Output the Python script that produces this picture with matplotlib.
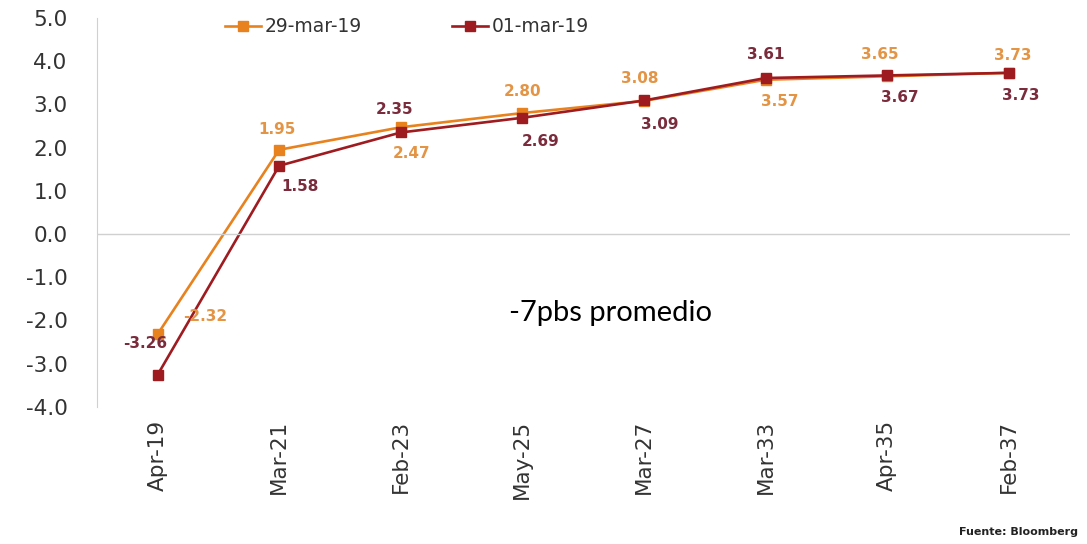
import matplotlib.pyplot as plt

plt.rcParams['font.family'] = ['DejaVu Sans']

# Данные
categories = ["Apr-19", "Mar-21", "Feb-23", "May-25", "Mar-27", "Mar-33", "Apr-35", "Feb-37"]
curve_29mar = [-2.32, 1.95, 2.47, 2.80, 3.08, 3.57, 3.65, 3.73]
curve_01mar = [-3.26, 1.58, 2.35, 2.69, 3.09, 3.61, 3.67, 3.73]
labels_29mar = ["-2.32", "1.95", "2.47", "2.80", "3.08", "3.57", "3.65", "3.73"]
labels_01mar = ["-3.26", "1.58", "2.35", "2.69", "3.09", "3.61", "3.67", "3.73"]
y_ticks = [5.0, 4.0, 3.0, 2.0, 1.0, 0.0, -1.0, -2.0, -3.0, -4.0]

orange = '#E8821E'
maroon = '#9E1B20'
orange_txt = '#E39445'
maroon_txt = '#7A2B3C'

# смещения подписей (в пикселях)
off_29mar = [(48, 18), (-2, 20), (11, -26), (0, 22), (-4, 22), (14, -22), (-7, 22), (4, 17)]
off_01mar = [(-12, 31), (21, -21), (-6, 23), (18, -24), (16, -24), (0, 24), (13, -22), (12, -23)]

fig = plt.figure(figsize=(10.87, 5.44), dpi=100)
ax = fig.add_axes([0.089, 0.252, 0.895, 0.715])
x = list(range(len(categories)))

ax.plot(x, curve_29mar, color=orange, lw=1.9, marker='s', markersize=7, label="29-mar-19")
ax.plot(x, curve_01mar, color=maroon, lw=1.9, marker='s', markersize=7, label="01-mar-19")

for i in x:
    ax.annotate(labels_29mar[i], (i, curve_29mar[i]), xytext=off_29mar[i], textcoords='offset pixels',
                ha='center', va='center', fontsize=11, color=orange_txt, fontweight='bold')
    ax.annotate(labels_01mar[i], (i, curve_01mar[i]), xytext=off_01mar[i], textcoords='offset pixels',
                ha='center', va='center', fontsize=11, color=maroon_txt, fontweight='bold')

ax.axhline(0, color='#d0d0d0', lw=1)
ax.set_xlim(-0.5, len(categories) - 0.5)
ax.set_ylim(-4.0, 5.0)
ax.set_yticks(y_ticks)
ax.set_yticklabels([f"{v:.1f}" for v in y_ticks], fontsize=15.5, color='#333333')
ax.set_xticks(x)
ax.set_xticklabels(categories, rotation=90, fontsize=15.5, color='#333333')
ax.tick_params(axis='y', length=0, pad=21)
ax.tick_params(axis='x', length=0, pad=9)
for s in ['top', 'right', 'bottom']:
    ax.spines[s].set_visible(False)
ax.spines['left'].set_color('#d0d0d0')

ax.legend(loc='upper left', bbox_to_anchor=(0.115, 1.045), ncol=2, frameon=False, fontsize=13.5,
          handlelength=1.9, handletextpad=0.2, columnspacing=4.8, labelcolor='#333333')

fig.text(0.562, 0.425, "-7pbs promedio", fontsize=21, family='Lato', ha='center', va='center')
fig.text(0.992, 0.012, "Fuente: Bloomberg", fontsize=8, fontweight='bold', ha='right', va='bottom', color='#222222')

fig.savefig("out.png", dpi=100)
